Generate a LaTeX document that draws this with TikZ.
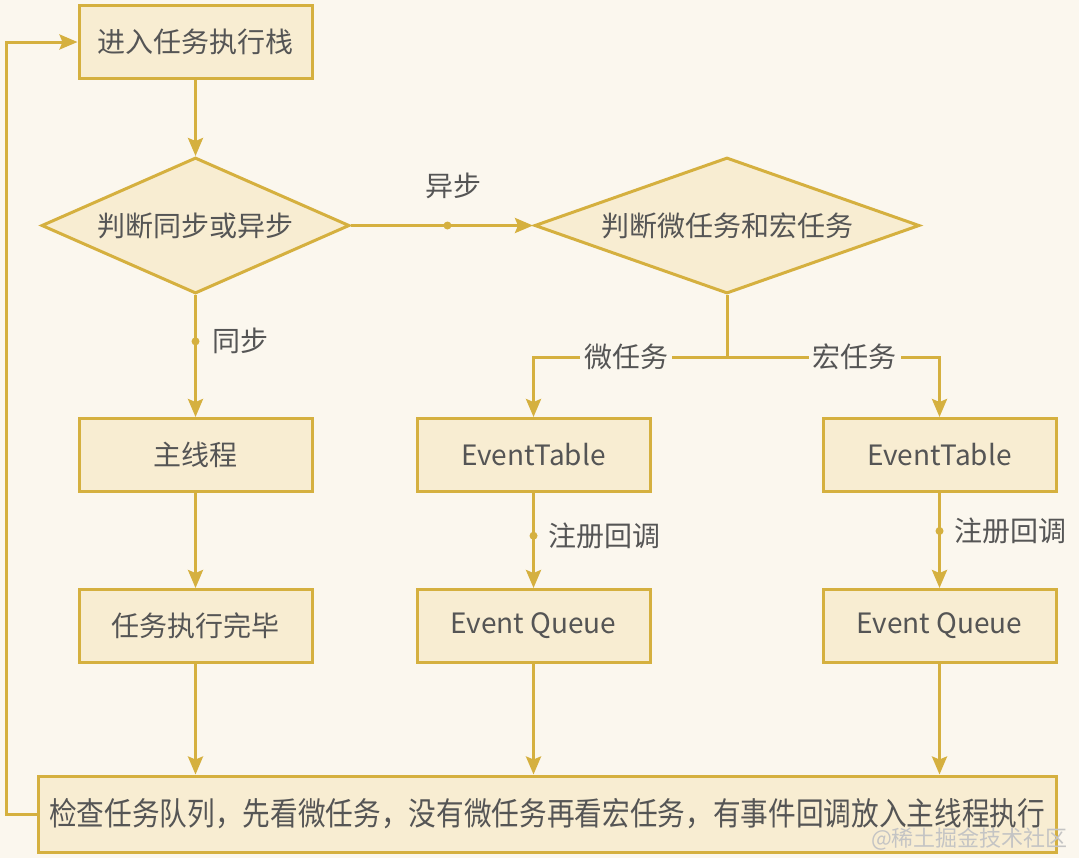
\documentclass[tikz,border=0pt]{standalone}
\usepackage{fontspec}
\setmainfont{Noto Sans CJK SC}
\usepackage{graphicx}
\usepackage{xcolor}
\usepackage{tikz}
\usetikzlibrary{arrows.meta,positioning,shapes.geometric}
\definecolor{FlowGold}{HTML}{D5B03F}
\definecolor{FlowFill}{HTML}{F8EDD2}
\definecolor{FlowPaper}{HTML}{FBF7EE}
\definecolor{FlowInk}{HTML}{555555}
\tikzset{
  >={Stealth[length=9pt,width=7.5pt,inset=1.5pt]},
  flow/.style={->,line width=1.5pt,draw=FlowGold},
  box/.style={draw=FlowGold,fill=FlowFill,line width=1.5pt,
    minimum width=116.5pt,minimum height=36.5pt,inner sep=2pt,
    font=\fontsize{14}{16}\selectfont,text=FlowInk},
  decision/.style={diamond,aspect=2.8,draw=FlowGold,fill=FlowFill,line width=1.5pt,
    minimum height=68pt,inner sep=0pt,font=\fontsize{14}{16}\selectfont,text=FlowInk},
  widebox/.style={box,minimum width=509pt,minimum height=38pt,
    font=\fontsize{16}{18}\selectfont},
  dot/.style={circle,fill=FlowGold,inner sep=0pt,minimum size=4pt},
  tag/.style={font=\fontsize{14}{16}\selectfont,text=FlowInk,inner sep=1pt},
  cut/.style={tag,fill=FlowPaper,inner sep=2pt}
}

\begin{document}
\begin{tikzpicture}
  \path[use as bounding box,fill=FlowPaper] (0,0) rectangle (539.5pt,-429pt);
  \node[box] (enter) at (97.75pt,-21pt) {进入任务执行栈};
  \node[decision,minimum width=154pt,below=38pt of enter] (judgeSync) {判断同步或异步};
  \node[decision,minimum width=192.5pt,right=91pt of judgeSync] (judgeTask) {判断微任务和宏任务};
  \node[box,below=61pt of judgeSync] (mainThread) {主线程};
  \node[box,below=47.5pt of mainThread] (finish) {任务执行完毕};
  \node[box,right=51pt of mainThread] (microTable) {EventTable};
  \node[box,below=47.5pt of microTable] (microQueue) {Event Queue};
  \node[box,right=85pt of microTable] (macroTable) {EventTable};
  \node[box,below=47.5pt of macroTable] (macroQueue) {Event Queue};
  \node[widebox] (check) at (273.5pt,-407pt) {\resizebox{498pt}{\height}{检查任务队列，先看微任务，没有微任务再看宏任务，有事件回调放入主线程执行}};
  \node[anchor=east,font=\fontsize{11}{12}\selectfont,text=FlowInk!35] (mark) at (537.5pt,-419.5pt) {@稀土掘金技术社区};

  \draw[flow] (enter) -- (judgeSync);
  \draw[flow] (judgeSync) -- node[dot,pos=.53,label={[tag,label distance=9pt,xshift=3pt]above:异步}]{} (judgeTask);
  \draw[flow] (judgeSync) -- node[dot,pos=.38,label={[tag,label distance=4pt]right:同步}]{} (mainThread);
  \draw[flow] (judgeTask.south) -- ++(0,-31pt) -| node[cut,pos=.26]{微任务} (microTable.north);
  \draw[flow] (judgeTask.south) -- ++(0,-31pt) -| node[cut,pos=.3]{宏任务} (macroTable.north);
  \draw[flow] (mainThread) -- (finish);
  \draw[flow] (microTable) -- node[dot,pos=.45,label={[tag,label distance=3pt]right:注册回调}]{} (microQueue);
  \draw[flow] (macroTable) -- node[dot,pos=.4,label={[tag,label distance=3pt]right:注册回调}]{} (macroQueue);
  \draw[flow] (finish) -- (finish |- check.north);
  \draw[flow] (microQueue) -- (microQueue |- check.north);
  \draw[flow] (macroQueue) -- (macroQueue |- check.north);
  \draw[flow] (check.west) -- ++(-15pt,0) |- (enter.west);
\end{tikzpicture}
\end{document}
